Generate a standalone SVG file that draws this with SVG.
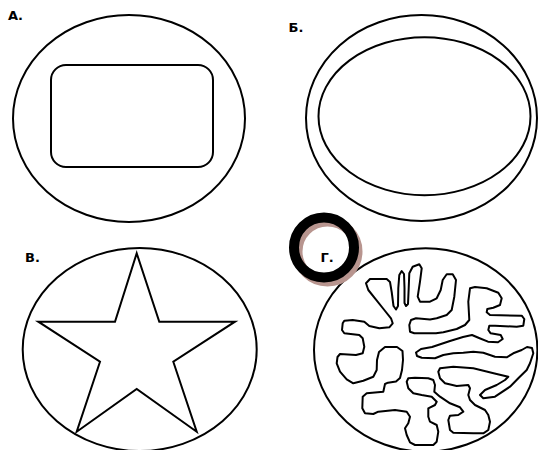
<svg xmlns="http://www.w3.org/2000/svg" width="538" height="450" viewBox="0 0 538 450">
<style>
.ln{fill:none;stroke:#000;stroke-width:2;stroke-linejoin:round;stroke-linecap:round}
.lbl{font-family:"DejaVu Sans","Liberation Sans",sans-serif;font-weight:bold;font-size:13px;fill:#000}
</style>
<rect width="538" height="450" fill="#fff"/>
<g id="panel-A">
<text class="lbl" x="8" y="20">А.</text>
<ellipse class="ln" cx="129" cy="118.5" rx="116" ry="103.5"/>
<rect class="ln" x="51" y="65" width="162" height="102" rx="15" ry="15"/>
</g>
<g id="panel-B">
<text class="lbl" x="288.5" y="31.5">Б.</text>
<ellipse class="ln" cx="421.5" cy="118" rx="115.5" ry="103"/>
<ellipse class="ln" cx="424.5" cy="116.2" rx="106" ry="79"/>
</g>
<g id="panel-V">
<text class="lbl" x="25" y="262">В.</text>
<ellipse class="ln" cx="139.7" cy="349.5" rx="117" ry="101.5"/>
<path class="ln" style="stroke-linejoin:miter" d="M136.7,253.3 L159.3,321.7 L235,321.7 L173.3,361.7 L196.7,431.7 L136.7,389 L76.7,431.7 L100,361.7 L38.3,321.7 L115,321.7 Z"/>
</g>
<g id="panel-G">
<ellipse class="ln" cx="425.7" cy="350" rx="111.7" ry="101.7"/>
<path class="ln" d="M421,349 L432,347 L450,341 L463,337 L472,335 L479,338 L488,341.7 L498,342.3 L502.7,339 L500.7,335 L490.7,333.3 L488.3,330 L489.3,325.7 L495,325.7 L516.7,326.7 L523.3,325.7 L524.3,319 L521.7,315.7 L490,315 L486.7,312.3 L487.3,309 L493.3,307.7 L500,305 L501.7,298.3 L498.3,292.7 L486.7,288.3 L475,287 L470,288.3 L468.3,301.7 L469.3,320 L465,325 L456.7,329 L443.3,332.3 L436,333.3 L414.3,333.3 L410,331.7 L409.3,325 L411,320 L416,318.3 L430,319.5 L436.7,318.3 L446.7,315 L451.7,310 L454.3,296.7 L456,280 L452.7,274.3 L446.7,274.3 L442.7,280 L440.7,290 L436.7,298.3 L430,301.7 L420,301.7 L417.7,296.7 L420,281.7 L421.7,268.3 L419.3,264.3 L412.7,266.7 L409.3,273.3 L408.7,288.3 L408,304 L406,306 L404.5,303 L404.5,288 L404,274 L401.7,271 L399.3,275 L398.3,288 L398,306 L396,309.5 L393.5,306 L391.7,292 L390,282 L386.7,279 L370,279 L366,283.3 L368.3,290 L375,298.3 L384.3,310 L391,318.3 L392.7,323.3 L389.3,327.3 L379.3,328.3 L369.3,326 L364.3,321.7 L352.7,320 L344.3,320.7 L342.7,323.3 L342,330 L344.3,333.3 L359.3,335 L362.7,338.3 L364.3,346.7 L362.7,353.3 L356,355 L340,354 L337.5,357 L336.7,363.3 L340,371.7 L346.7,379.3 L353.3,383.3 L363.3,380.7 L373.3,376.7 L376.7,370 L377,360 L379,352 L385,347 L397,347 L402.5,351 L403,360 L402,370 L400,378 L396,381.5 L388,382.7 L385,384 L383.3,391.7 L366.7,393.3 L362.7,396.7 L362.3,408.3 L365,413.3 L373.3,414 L378.3,411.7 L395,410 L406.7,411.7 L410,416.7 L408.3,423.3 L405,428.3 L406.7,435 L410,442.3 L415,445 L433.3,445 L436.7,441.7 L438.3,431.7 L436.7,425 L430,421.7 L428.3,416.7 L428.3,408.3 L435,405 L436.7,401.7 L431.7,396.7 L421.7,395 L413.3,393.3 L408.3,388.3 L406.7,381.7 L408.3,378.3 L415,377.7 L428.3,378.3 L433.3,380 L435,385 L434.3,391.7 L440,396.7 L450,403.3 L460,407.3 L463.3,411.7 L458.3,415 L450,415.7 L448.3,420 L450,430 L453.3,432.7 L473.3,433.3 L483.3,433.3 L488.3,430 L490,421.7 L488.3,415 L485,410 L475,405 L470,400 L468.3,395 L470,388.3 L468.3,385 L456.7,386 L445,383.3 L440,378.3 L438.3,371.7 L440,368.3 L453.3,366.7 L473.3,368.3 L496.7,374 L508.3,376.7 L505,380 L496.7,385 L485,390 L480,395 L483.3,398.3 L495,396.7 L510,386.7 L518.3,378.3 L526.7,370 L530,363.3 L533.3,353.3 L532,348 L527,347 L521.7,350 L513.3,353.3 L506.7,357.3 L495,356.7 L483.3,352.7 L473.3,351.7 L463.3,352.7 L453.3,353.3 L443.3,355 L435,358.3 L421.7,357.7 L417,356 L416,352.5 Z"/>
<circle cx="327.5" cy="251.5" r="30" fill="none" stroke="#b8958f" stroke-width="10"/>
<circle cx="324" cy="247.5" r="30" fill="none" stroke="#000" stroke-width="10"/>
<text class="lbl" x="320.5" y="261.5">Г.</text>
</g>
</svg>
